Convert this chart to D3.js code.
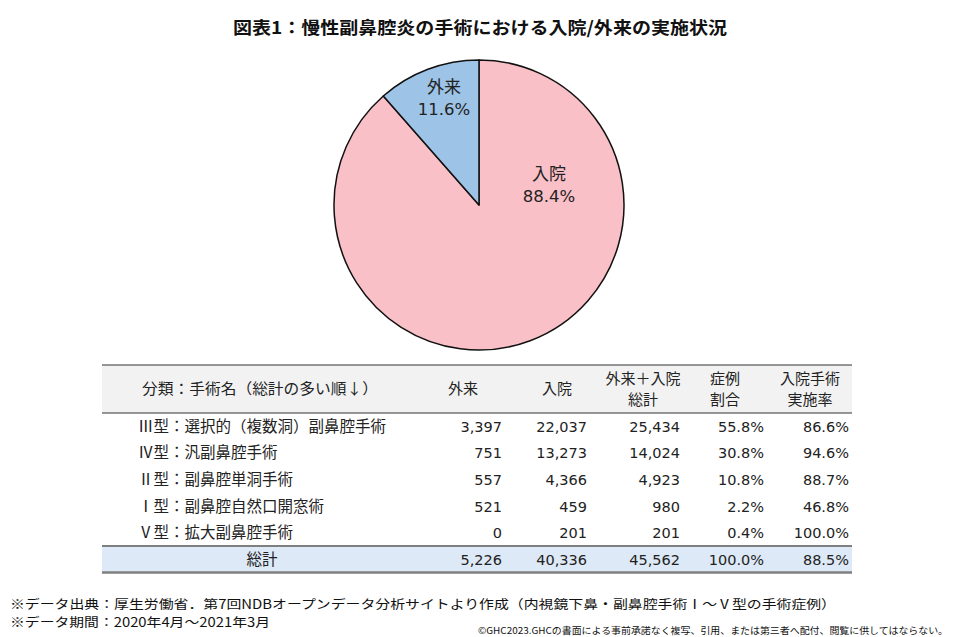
<!DOCTYPE html>
<html><head><meta charset="utf-8">
<script src="https://cdn.jsdelivr.net/npm/d3@7"></script>
<style>body{margin:0;background:#fff}svg{display:block}</style>
</head><body>
<script>
const title = "図表1：慢性副鼻腔炎の手術における入院/外来の実施状況";
const pieLabels = ["入院", "外来"];
const pieValues = [40336, 5226];
const piePct = ["88.4%", "11.6%"];
const pieColors = ["#fac0c7", "#9dc3e6"];

const headers = [["分類：手術名（総計の多い順↓）"], ["外来"], ["入院"], ["外来＋入院", "総計"], ["症例", "割合"], ["入院手術", "実施率"]];
const categories = ["Ⅲ型：選択的（複数洞）副鼻腔手術", "Ⅳ型：汎副鼻腔手術", "Ⅱ型：副鼻腔単洞手術", "Ⅰ型：副鼻腔自然口開窓術", "Ⅴ型：拡大副鼻腔手術"];
const outpatient = [3397, 751, 557, 521, 0];
const inpatient = [22037, 13273, 4366, 459, 201];
const totals = [25434, 14024, 4923, 980, 201];
const shareOfCases = ["55.8%", "30.8%", "10.8%", "2.2%", "0.4%"];
const inpatientRate = ["86.6%", "94.6%", "88.7%", "46.8%", "100.0%"];
const totalRow = ["総計", 5226, 40336, 45562, "100.0%", "88.5%"];
const footnotes = ["※データ出典：厚生労働省．第7回NDBオープンデータ分析サイトより作成（内視鏡下鼻・副鼻腔手術Ⅰ～Ⅴ型の手術症例）", "※データ期間：2020年4月～2021年3月"];
const copyright = "©GHC2023.GHCの書面による事前承諾なく複写、引用、または第三者へ配付、閲覧に供してはならない。";

const W = 953, H = 637;
const jp = "'Noto Sans CJK JP','Noto Sans',sans-serif";
const numFont = "Verdana,'DejaVu Sans',sans-serif";
const svg = d3.select("body").append("svg").attr("width", W).attr("height", H)
  .style("font-family", jp);

svg.append("text").attr("x", 480).attr("y", 34).attr("text-anchor", "middle")
  .attr("font-size", 17.5).attr("font-weight", "bold").attr("fill", "#111")
  .attr("textLength", 494).attr("lengthAdjust", "spacingAndGlyphs").text(title);

// Pie
const cx = 479, cy = 205, R = 145;
const pie = d3.pie().sort(null).value(d => d)(pieValues);
const arc = d3.arc().innerRadius(0).outerRadius(R);
const g = svg.append("g").attr("transform", `translate(${cx},${cy})`);
g.selectAll("path").data(pie).join("path").attr("d", arc)
  .attr("fill", (d, i) => pieColors[i]).attr("stroke", "#111").attr("stroke-width", 1.5)
  .attr("stroke-linejoin", "round");
const labelPos = [[70, -25], [-35, -112]];
pie.forEach((d, i) => {
  const t = g.append("text").attr("text-anchor", "middle").attr("fill", "#222");
  t.append("tspan").attr("x", labelPos[i][0]).attr("y", labelPos[i][1]).attr("font-size", 17).text(pieLabels[i]);
  t.append("tspan").attr("x", labelPos[i][0]).attr("y", labelPos[i][1] + 22)
    .attr("font-family", numFont).attr("font-size", 16.5).text(piePct[i]);
});

// Table
const tx0 = 102, tx1 = 852;
const yTop = 365, yHead = 413, rowH = 26.6;
const rows = categories.map((c, i) => [c, outpatient[i], inpatient[i], totals[i], shareOfCases[i], inpatientRate[i]]);
const yRow = d3.scaleBand().domain(d3.range(rows.length + 1)).range([yHead, yHead + rowH * (rows.length + 1)]);
const fmt = d3.format(",");
const colRight = [null, 502, 587, 680, 764, 849];
const headCenter = [260, 463, 557, 643, 725, 810];

svg.append("rect").attr("x", tx0).attr("y", yTop).attr("width", tx1 - tx0).attr("height", yHead - yTop).attr("fill", "#f2f2f2");
const tb = yRow(rows.length);
svg.append("rect").attr("x", tx0).attr("y", tb).attr("width", tx1 - tx0).attr("height", yRow.bandwidth()).attr("fill", "#dde9f6");
svg.append("line").attr("x1", tx0).attr("x2", tx1).attr("y1", yTop).attr("y2", yTop).attr("stroke", "#333").attr("stroke-width", 1.2);
svg.append("line").attr("x1", tx0).attr("x2", tx1).attr("y1", yHead).attr("y2", yHead).attr("stroke", "#333").attr("stroke-width", 1.2);
svg.append("line").attr("x1", tx0).attr("x2", tx1).attr("y1", tb).attr("y2", tb).attr("stroke", "#7f7f7f").attr("stroke-width", 2);
svg.append("line").attr("x1", tx0).attr("x2", tx1).attr("y1", tb + yRow.bandwidth()).attr("y2", tb + yRow.bandwidth()).attr("stroke", "#7f7f7f").attr("stroke-width", 2.5);

headers.forEach((h, j) => {
  const t = svg.append("text").attr("text-anchor", "middle").attr("font-size", 15).attr("fill", "#222");
  if (h.length === 1) {
    t.append("tspan").attr("x", headCenter[j]).attr("y", 394).text(h[0]);
    if (j === 0) t.attr("textLength", 236).attr("lengthAdjust", "spacingAndGlyphs");
  } else {
    t.append("tspan").attr("x", headCenter[j]).attr("y", 384).text(h[0]);
    t.append("tspan").attr("x", headCenter[j]).attr("y", 405).text(h[1]);
  }
});

rows.concat([totalRow]).forEach((r, i) => {
  const yc = yRow(i) + yRow.bandwidth() / 2 + 5.5;
  r.forEach((v, j) => {
    if (j === 0) {
      const isTot = i === rows.length;
      svg.append("text").attr("x", isTot ? 262 : 138).attr("y", yc)
        .attr("text-anchor", isTot ? "middle" : "start").attr("font-size", 15.5).attr("fill", "#222").text(v);
    } else {
      svg.append("text").attr("x", colRight[j]).attr("y", yc).attr("text-anchor", "end")
        .attr("font-family", numFont).attr("font-size", 14.5).attr("fill", "#222")
        .text(typeof v === "number" ? fmt(v) : v);
    }
  });
});

// Footnotes
footnotes.forEach((f, i) => {
  svg.append("text").attr("x", 10).attr("y", 608.5 + i * 18.5).attr("font-size", 12.5).attr("fill", "#111")
    .attr("textLength", i === 0 ? 826 : 260).attr("lengthAdjust", "spacingAndGlyphs").text(f);
});
svg.append("text").attr("x", 948).attr("y", 634).attr("text-anchor", "end").attr("font-size", 9.5).attr("fill", "#111")
  .attr("textLength", 470).attr("lengthAdjust", "spacingAndGlyphs").text(copyright);
</script>
</body></html>
